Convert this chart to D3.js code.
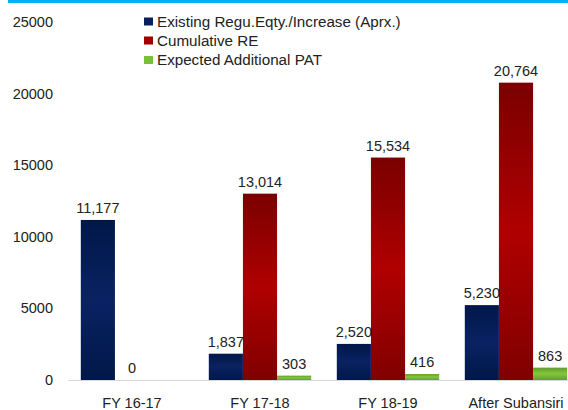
<!DOCTYPE html>
<html lang="en">
<head>
<meta charset="UTF-8">
<title>RE chart</title>
<script src="https://d3js.org/d3.v7.min.js"></script>
<style>
  body { margin: 0; background: #fff; }
  svg { display: block; font-family: "Liberation Sans", Arial, sans-serif; }
</style>
</head>
<body>
<div class="chart"></div>
<script>
  const categories = ["FY 16-17", "FY 17-18", "FY 18-19", "After Subansiri"];
  const seriesNames = ["Existing Regu.Eqty./Increase (Aprx.)", "Cumulative RE", "Expected Additional PAT"];
  const existing = [11177, 1837, 2520, 5230];
  const cumulative = [0, 13014, 15534, 20764];
  const addlPat = [null, 303, 416, 863];
  const yTicks = [0, 5000, 10000, 15000, 20000, 25000];

  const width = 568, height = 410;
  const svg = d3.select(".chart").append("svg")
      .attr("width", width).attr("height", height);

  // gradients for the bars
  const defs = svg.append("defs");
  const grads = [
    ["g0", ["#001848", "#0a2262", "#001848"]],
    ["g1", ["#7a0000", "#b00000", "#800000"]],
    ["g2", ["#5f9e2a", "#84c63c", "#629f2c"]]
  ];
  grads.forEach(([id, cols]) => {
    const lg = defs.append("linearGradient").attr("id", id)
        .attr("x1", 0).attr("y1", 0).attr("x2", 0).attr("y2", 1);
    cols.forEach((c, i) => lg.append("stop").attr("offset", i / 2).attr("stop-color", c));
  });
  const fills = ["url(#g0)", "url(#g1)", "url(#g2)"];
  const legendColors = ["#0a1f5c", "#a00000", "#78c03a"];

  // top stripe
  svg.append("rect").attr("x", 8).attr("y", 0).attr("width", width - 8).attr("height", 3)
      .attr("fill", "#00b4f0");

  const x0 = d3.scaleBand().domain(categories).range([68, 580])
      .paddingInner(0.2).paddingOuter(0.1);
  const x1 = d3.scaleBand().domain([0, 1, 2]).range([0, x0.bandwidth()]);
  const y = d3.scaleLinear().domain([0, 25000]).range([380, 22]);

  // y tick labels
  svg.append("g").selectAll("text").data(yTicks).join("text")
      .attr("x", 53).attr("y", d => y(d)).attr("dy", "0.35em")
      .attr("text-anchor", "end").attr("font-size", 14.5).attr("fill", "#222")
      .text(d => d);

  const rows = [];
  categories.forEach((c, i) => {
    [existing, cumulative, addlPat].forEach((arr, s) => {
      rows.push({ cat: c, s: s, v: arr[i] });
    });
  });

  const g = svg.append("g");
  g.selectAll("rect").data(rows.filter(d => d.v != null)).join("rect")
      .attr("x", d => x0(d.cat) + x1(d.s))
      .attr("y", d => y(d.v))
      .attr("width", x1.bandwidth())
      .attr("height", d => y(0) - y(d.v))
      .attr("fill", d => fills[d.s]);

  // baseline
  svg.append("line").attr("x1", 68).attr("x2", width)
      .attr("y1", y(0) + 0.5).attr("y2", y(0) + 0.5)
      .attr("stroke", "#d9d9d9").attr("stroke-width", 1);

  const fmt = d3.format(",");
  g.selectAll("text.val").data(rows.filter(d => d.v != null)).join("text")
      .attr("class", "val")
      .attr("x", d => x0(d.cat) + x1(d.s) + x1.bandwidth() / 2)
      .attr("y", d => y(d.v) - 7)
      .attr("text-anchor", "middle").attr("font-size", 14.5).attr("fill", "#222")
      .text(d => fmt(d.v));

  // category labels
  svg.append("g").selectAll("text").data(categories).join("text")
      .attr("x", d => x0(d) + x0.bandwidth() / 2)
      .attr("y", 408)
      .attr("text-anchor", "middle").attr("font-size", 14.5).attr("fill", "#222")
      .text(d => d);

  // legend
  const legY = [21.5, 40.5, 60];
  const leg = svg.append("g");
  seriesNames.forEach((n, i) => {
    leg.append("rect").attr("x", 144).attr("y", legY[i] - 4).attr("width", 9).attr("height", 8)
        .attr("fill", legendColors[i]);
    leg.append("text").attr("x", 157).attr("y", legY[i]).attr("dy", "0.35em")
        .attr("font-size", 15.2).attr("fill", "#222").text(n);
  });
</script>
</body>
</html>
